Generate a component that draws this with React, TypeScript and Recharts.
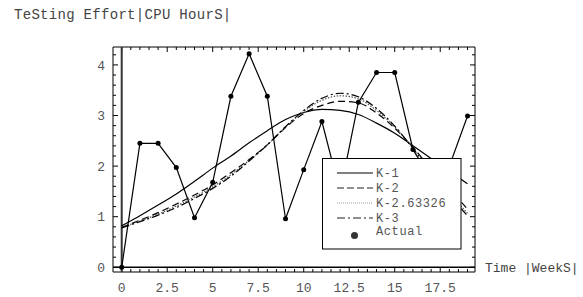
import React from 'react';
import { ComposedChart, Line, XAxis, YAxis, ReferenceLine, ReferenceArea, Legend } from 'recharts';

// ---- data ----
const weeks = [0, 1, 2, 3, 4, 5, 6, 7, 8, 9, 10, 11, 12, 13, 14, 15, 16, 17, 18, 19];
const actualHours = [0, 2.45, 2.45, 1.97, 0.98, 1.68, 3.38, 4.22, 3.38, 0.96, 1.93, 2.88, 1.48, 3.26, 3.85, 3.85, 2.33, 1.74, 2.0, 2.99];
const k1Values = [0.82, 1.02, 1.23, 1.45, 1.7, 1.96, 2.2, 2.46, 2.7, 2.92, 3.06, 3.12, 3.1, 3.02, 2.85, 2.65, 2.4, 2.15, 1.9, 1.65];
const k2Values = [0.79, 0.93, 1.08, 1.25, 1.43, 1.63, 1.87, 2.13, 2.42, 2.76, 3.04, 3.2, 3.28, 3.25, 3.05, 2.75, 2.37, 1.95, 1.55, 1.15];
const k263Values = [0.785, 0.915, 1.05, 1.21, 1.39, 1.59, 1.83, 2.11, 2.42, 2.77, 3.08, 3.3, 3.39, 3.33, 3.1, 2.77, 2.36, 1.9, 1.46, 1.07];
const k3Values = [0.78, 0.9, 1.03, 1.18, 1.36, 1.56, 1.8, 2.1, 2.42, 2.78, 3.1, 3.34, 3.44, 3.37, 3.14, 2.79, 2.35, 1.88, 1.42, 1.02];
const xTickLabels = [0, 2.5, 5, 7.5, 10, 12.5, 15, 17.5];
const yTickLabels = [0, 1, 2, 3, 4];
const legendLabels = ['K-1', 'K-2', 'K-2.63326', 'K-3', 'Actual'];

const data = weeks.map((w, i) => ({
  week: w,
  actual: actualHours[i],
  k1: k1Values[i],
  k2: k2Values[i],
  k263: k263Values[i],
  k3: k3Values[i],
}));

// ---- layout ----
const X_MIN = -0.478;
const X_MAX = 19.41;
const Y_MIN = -0.093;
const Y_MAX = 4.354;
const PX_X = 18.2; // px per x unit
const PX_Y = 50.6; // px per y unit
const FONT = "'Liberation Mono', 'DejaVu Sans Mono', monospace";
const TEXT_COLOR = '#555';

const xFrameTicks: { v: number; major: boolean }[] = [];
for (let i = 0; i <= 38; i++) {
  const v = i * 0.5;
  xFrameTicks.push({ v, major: i % 5 === 0 });
}
const yFrameTicks: { v: number; major: boolean }[] = [];
for (let i = 0; i <= 21; i++) {
  const v = Math.round(i * 0.2 * 100) / 100;
  yFrameTicks.push({ v, major: i % 5 === 0 });
}

const MAJOR_LEN = 5;
const MINOR_LEN = 3;

const LegendBox = () => {
  const rows = [
    { y: 15, dash: undefined as string | undefined, color: '#000' },
    { y: 30, dash: '7 3', color: '#222' },
    { y: 45, dash: '1 1', color: '#999' },
    { y: 60, dash: '8 3 2 3', color: '#222' },
  ];
  return (
    <svg width={140} height={92} style={{ display: 'block' }}>
      <rect x={0.5} y={0.5} width={138.5} height={90.5} fill="#fff" stroke="#000" strokeWidth={1} />
      {rows.map((r, i) => (
        <g key={i}>
          <line x1={15} x2={51} y1={r.y} y2={r.y} stroke={r.color} strokeWidth={1.2} strokeDasharray={r.dash} />
          <text x={54} y={r.y + 4} fontFamily={FONT} fontSize={12} letterSpacing={0.6} fill={TEXT_COLOR}>{legendLabels[i]}</text>
        </g>
      ))}
      <circle cx={32.5} cy={77.5} r={3.5} fill="#333" />
      <text x={54} y={77} fontFamily={FONT} fontSize={12} letterSpacing={0.6} fill={TEXT_COLOR}>{legendLabels[4]}</text>
    </svg>
  );
};

export default function App() {
  return (
    <div style={{ position: 'absolute', left: 0, top: 0, width: 583, height: 297, background: '#fff' }}>
      <ComposedChart
        width={583}
        height={297}
        data={data}
        margin={{ top: 47, right: 108, bottom: 0, left: 0 }}
      >
        <XAxis
          dataKey="week"
          type="number"
          domain={[X_MIN, X_MAX]}
          ticks={xTickLabels}
          interval={0}
          allowDataOverflow
          height={25}
          tickLine={false}
          axisLine={false}
          tickSize={0}
          tickMargin={11}
          tick={{ fill: TEXT_COLOR, fontSize: 13, fontFamily: FONT }}
        />
        <YAxis
          type="number"
          domain={[Y_MIN, Y_MAX]}
          ticks={yTickLabels}
          interval={0}
          allowDataOverflow
          width={113}
          tickLine={false}
          axisLine={false}
          tickSize={0}
          tickMargin={8}
          tick={{ fill: TEXT_COLOR, fontSize: 13, fontFamily: FONT }}
        />
        <ReferenceArea x1={X_MIN} x2={X_MAX} y1={Y_MIN} y2={Y_MAX} fill="none" stroke="#000" strokeWidth={1} ifOverflow="visible" />
        {xFrameTicks.map((t, i) => {
          const len = (t.major ? MAJOR_LEN : MINOR_LEN) / PX_Y;
          return (
            <React.Fragment key={'xt' + i}>
              <ReferenceLine segment={[{ x: t.v, y: Y_MIN }, { x: t.v, y: Y_MIN + len }]} stroke="#000" strokeWidth={1} ifOverflow="visible" />
              <ReferenceLine segment={[{ x: t.v, y: Y_MAX }, { x: t.v, y: Y_MAX - len }]} stroke="#000" strokeWidth={1} ifOverflow="visible" />
            </React.Fragment>
          );
        })}
        {yFrameTicks.map((t, i) => {
          const len = (t.major ? MAJOR_LEN : MINOR_LEN) / PX_X;
          return (
            <React.Fragment key={'yt' + i}>
              <ReferenceLine segment={[{ x: X_MIN, y: t.v }, { x: X_MIN + len, y: t.v }]} stroke="#000" strokeWidth={1} ifOverflow="visible" />
              <ReferenceLine segment={[{ x: X_MAX, y: t.v }, { x: X_MAX - len, y: t.v }]} stroke="#000" strokeWidth={1} ifOverflow="visible" />
            </React.Fragment>
          );
        })}
        <ReferenceLine y={0} stroke="#000" strokeWidth={1.5} />
        <ReferenceLine x={0} stroke="#333" strokeWidth={2} />
        <Line dataKey="k1" type="monotone" stroke="#000" strokeWidth={1.2} dot={false} isAnimationActive={false} />
        <Line dataKey="k2" type="monotone" stroke="#000" strokeWidth={1.2} strokeDasharray="7 4" dot={false} isAnimationActive={false} />
        <Line dataKey="k263" type="monotone" stroke="#555" strokeWidth={1.2} strokeDasharray="1.5 1.5" dot={false} isAnimationActive={false} />
        <Line dataKey="k3" type="monotone" stroke="#000" strokeWidth={1.2} strokeDasharray="8 3 2 3" dot={false} isAnimationActive={false} />
        <Line dataKey="actual" type="linear" stroke="#000" strokeWidth={1.2} dot={{ r: 2.5, fill: '#000', stroke: '#000', strokeWidth: 0 }} isAnimationActive={false} />
        <Legend
          layout="vertical"
          verticalAlign="middle"
          align="center"
          wrapperStyle={{ left: 322, top: 158, width: 140, height: 92 }}
          content={() => <LegendBox />}
        />
      </ComposedChart>
      <svg width={583} height={297} style={{ position: 'absolute', left: 0, top: 0, pointerEvents: 'none' }}>
        <text x={14} y={19} fontFamily={FONT} fontSize={14} letterSpacing={0.3} fill="#444">TeSting Effort|CPU HourS|</text>
        <text x={485} y={272} fontFamily={FONT} fontSize={13} fill="#444">Time |WeekS|</text>
      </svg>
    </div>
  );
}
